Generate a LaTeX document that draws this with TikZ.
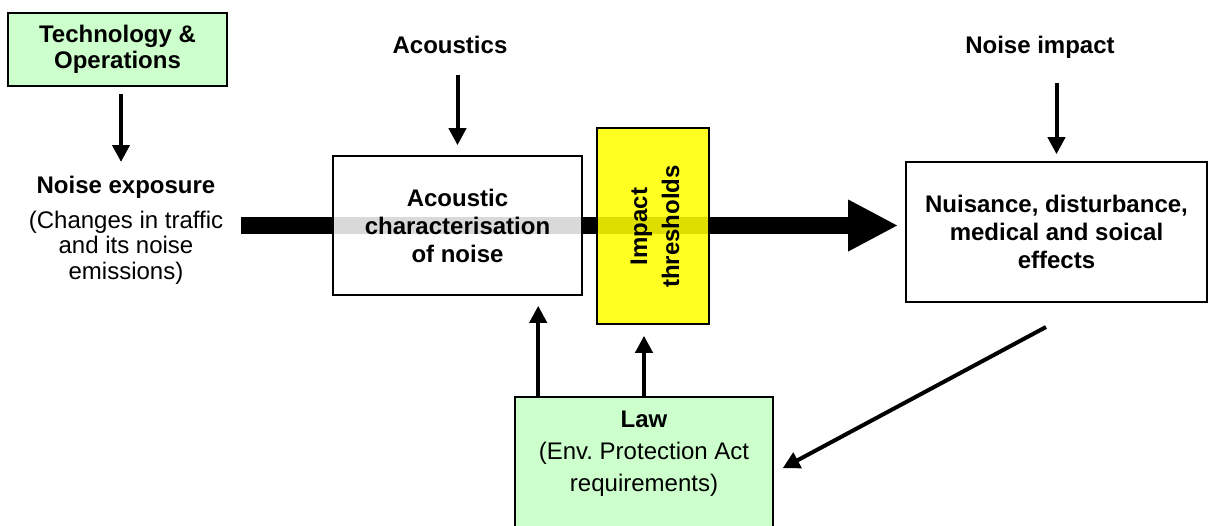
\documentclass[tikz,border=0pt]{standalone}
\usepackage{fontspec}
\setmainfont{Liberation Sans}
\usetikzlibrary{arrows.meta,calc}
\pgfdeclarelayer{background}
\pgfsetlayers{background,main}
\definecolor{lgreen}{HTML}{CCFFCC}
\definecolor{yfill}{HTML}{FFFF00}
\begin{document}
\frenchspacing
\begin{tikzpicture}[x=1pt,y=-1pt,
  box/.style={draw=black,line width=1.6pt,inner sep=0pt,align=center,
    font=\bfseries\fontsize{24}{28}\selectfont,text opacity=1},
  greenbox/.style={box,fill=lgreen},
  txt/.style={inner sep=0pt,align=center,font=\fontsize{24}{25.5}\selectfont},
  btxt/.style={inner sep=0pt,align=center,font=\bfseries\fontsize{24}{28}\selectfont},
  arr/.style={line width=4pt,-{Triangle[length=17pt,width=17pt]}},
  bar/.style={line width=17pt,-{Triangle[length=50pt,width=48pt]}}]
\useasboundingbox (0,0) rectangle (1213,525);

% boxes
\node[greenbox,minimum width=219pt,minimum height=73pt,
  font=\bfseries\fontsize{24}{26}\selectfont] (tech) at (117.5,49.5) {Technology \&\\Operations};
\node[box,fill=white,fill opacity=0.85,minimum width=249pt,minimum height=139pt] (ac) at (457.5,225.5)
  {Acoustic\\characterisation\\of noise};
\node[box,fill=yfill,fill opacity=0.87,minimum width=112pt,minimum height=196pt] (yel) at (653,226) {};
\node[btxt,rotate=90,font=\bfseries\fontsize{24}{32}\selectfont] (thr) at (655,226.5) {Impact\\thresholds};
\node[box,fill=white,minimum width=301pt,minimum height=140pt] (rb) at (1056.5,232)
  {Nuisance, disturbance,\\medical and soical\\effects};
\node[greenbox,minimum width=258pt,minimum height=152pt] (law) at (644,473) {};
\node[txt,anchor=north,font=\fontsize{24}{32}\selectfont] (lawtext) at (644,411)
  {\textbf{Law}\\(Env. Protection Act\\requirements)};

% labels
\node[btxt,anchor=base] (acl) at (450,53) {Acoustics};
\node[btxt,anchor=base] (nil) at (1040,53) {Noise impact};
\node[txt,anchor=north] (expo) at (126,176)
  {\textbf{Noise exposure}\\[9pt](Changes in traffic\\and its noise\\emissions)};

% main thick arrow (behind boxes)
\coordinate (barstart) at (241,225.5);
\begin{pgfonlayer}{background}
\draw[bar,shorten >=7pt] (barstart) -- (barstart -| rb.west);
\end{pgfonlayer}

% thin arrows
\coordinate (t1) at ([xshift=3.5pt]tech.south);
\draw[arr,shorten <=7pt,shorten >=14pt] (t1) -- (t1 |- expo.north);
\draw[arr,shorten <=22pt,shorten >=10pt] (ac.north |- acl.south) -- (ac.north);
\draw[arr,shorten <=25pt,shorten >=7pt] (rb.north |- nil.south) -- (rb.north);
\coordinate (la) at ([xshift=24pt]law.north west);
\draw[arr,shorten >=10pt] (la) -- (la |- ac.south);
\draw[arr,shorten >=11pt] (law.north) -- (law.north |- yel.south);
\coordinate (ds) at (1046,327);
\draw[arr,shorten >=10pt] (ds) -- (law.east);
\end{tikzpicture}
\end{document}
